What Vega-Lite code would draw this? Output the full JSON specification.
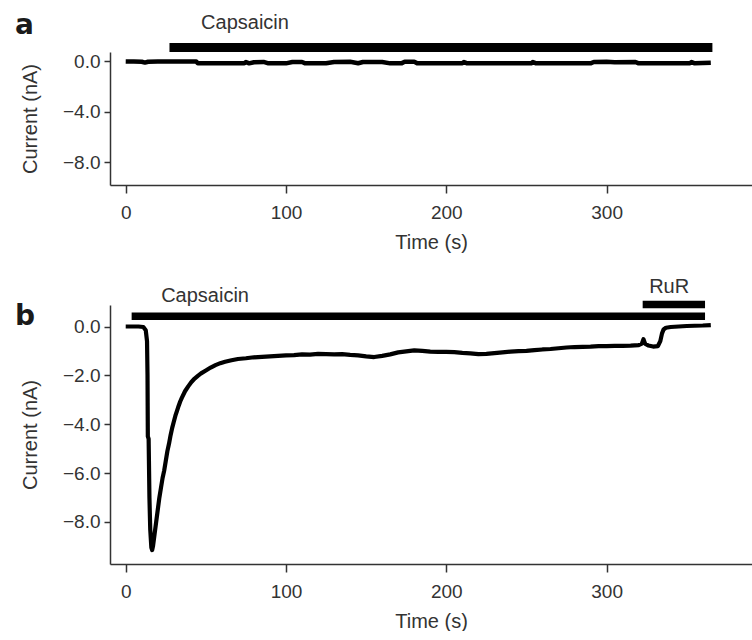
{
  "$schema": "https://vega.github.io/schema/vega-lite/v6.json",
  "padding": {"left": 15, "top": 11, "right": 0, "bottom": 0},
  "bounds": "flush",
  "spacing": 120,
  "background": "white",
  "config": {
    "view": {"stroke": null},
    "font": "Liberation Sans",
    "axis": {
      "grid": false,
      "domainColor": "#333333",
      "domainWidth": 1.5,
      "tickColor": "#333333",
      "tickWidth": 1.5,
      "labelFont": "Liberation Sans",
      "labelFontSize": 19,
      "labelColor": "#333333",
      "titleFont": "Liberation Sans",
      "titleFontSize": 20,
      "titleFontWeight": "normal",
      "titleColor": "#333333"
    },
    "axisX": {"tickSize": 8, "labelPadding": 10, "titlePadding": 10},
    "axisY": {"tickSize": 6, "labelPadding": 4, "titlePadding": 22}
  },
  "datasets": {
    "traceA": [
      {"t": 0, "I": 0.0}, {"t": 5, "I": -0.01}, {"t": 10, "I": -0.02}, {"t": 12, "I": -0.09}, {"t": 14, "I": -0.02},
      {"t": 20, "I": 0.0}, {"t": 30, "I": -0.01}, {"t": 40, "I": 0.0}, {"t": 44, "I": 0.0}, {"t": 45, "I": -0.15},
      {"t": 55, "I": -0.15}, {"t": 65, "I": -0.14}, {"t": 74, "I": -0.15}, {"t": 75, "I": -0.05}, {"t": 77, "I": -0.15},
      {"t": 80, "I": -0.06}, {"t": 86, "I": -0.04}, {"t": 89, "I": -0.15}, {"t": 100, "I": -0.15}, {"t": 104, "I": -0.04},
      {"t": 110, "I": -0.04}, {"t": 112, "I": -0.15}, {"t": 125, "I": -0.15}, {"t": 130, "I": -0.05}, {"t": 140, "I": -0.03},
      {"t": 145, "I": -0.14}, {"t": 148, "I": -0.04}, {"t": 160, "I": -0.04}, {"t": 165, "I": -0.15}, {"t": 172, "I": -0.15},
      {"t": 174, "I": -0.03}, {"t": 180, "I": -0.03}, {"t": 182, "I": -0.15}, {"t": 200, "I": -0.15}, {"t": 210, "I": -0.14},
      {"t": 211, "I": -0.04}, {"t": 213, "I": -0.15}, {"t": 240, "I": -0.15}, {"t": 253, "I": -0.15}, {"t": 254, "I": -0.04},
      {"t": 256, "I": -0.15}, {"t": 290, "I": -0.15}, {"t": 292, "I": -0.04}, {"t": 300, "I": -0.03}, {"t": 305, "I": -0.06},
      {"t": 318, "I": -0.04}, {"t": 320, "I": -0.15}, {"t": 340, "I": -0.15}, {"t": 352, "I": -0.15}, {"t": 353, "I": -0.05},
      {"t": 355, "I": -0.15}, {"t": 365, "I": -0.1}
    ],
    "traceB": [
      {"t": 0, "I": 0.0}, {"t": 4, "I": 0.0}, {"t": 8, "I": 0.0}, {"t": 11, "I": -0.02}, {"t": 12.5, "I": -0.15},
      {"t": 13.3, "I": -0.6}, {"t": 13.6, "I": -2.0}, {"t": 13.8, "I": -4.5}, {"t": 14.3, "I": -4.6}, {"t": 14.8, "I": -7.0},
      {"t": 15.3, "I": -8.3}, {"t": 16.0, "I": -9.05}, {"t": 16.5, "I": -9.15}, {"t": 17, "I": -9.0}, {"t": 18, "I": -8.5},
      {"t": 19, "I": -8.0}, {"t": 20, "I": -7.5}, {"t": 21, "I": -7.0}, {"t": 22, "I": -6.6}, {"t": 23, "I": -6.2},
      {"t": 24, "I": -5.9}, {"t": 25, "I": -5.5}, {"t": 26, "I": -5.1}, {"t": 27, "I": -4.8}, {"t": 28, "I": -4.45},
      {"t": 29, "I": -4.15}, {"t": 30, "I": -3.9}, {"t": 31, "I": -3.65}, {"t": 32, "I": -3.45}, {"t": 33, "I": -3.25},
      {"t": 34, "I": -3.07}, {"t": 35, "I": -2.92}, {"t": 37, "I": -2.65}, {"t": 39, "I": -2.45}, {"t": 41, "I": -2.27},
      {"t": 43, "I": -2.13}, {"t": 45, "I": -2.02}, {"t": 47, "I": -1.92}, {"t": 50, "I": -1.8}, {"t": 53, "I": -1.68},
      {"t": 56, "I": -1.58}, {"t": 59, "I": -1.5}, {"t": 62, "I": -1.44}, {"t": 66, "I": -1.38}, {"t": 70, "I": -1.33},
      {"t": 75, "I": -1.3}, {"t": 80, "I": -1.26}, {"t": 85, "I": -1.24}, {"t": 90, "I": -1.22}, {"t": 95, "I": -1.2},
      {"t": 100, "I": -1.18}, {"t": 105, "I": -1.17}, {"t": 110, "I": -1.14}, {"t": 115, "I": -1.15}, {"t": 120, "I": -1.12},
      {"t": 125, "I": -1.13}, {"t": 130, "I": -1.14}, {"t": 135, "I": -1.13}, {"t": 140, "I": -1.16}, {"t": 145, "I": -1.18},
      {"t": 150, "I": -1.22}, {"t": 155, "I": -1.25}, {"t": 160, "I": -1.2}, {"t": 165, "I": -1.14}, {"t": 170, "I": -1.06},
      {"t": 175, "I": -1.02}, {"t": 180, "I": -0.98}, {"t": 185, "I": -1.0}, {"t": 190, "I": -1.03}, {"t": 195, "I": -1.04},
      {"t": 200, "I": -1.04}, {"t": 205, "I": -1.05}, {"t": 210, "I": -1.08}, {"t": 215, "I": -1.1}, {"t": 220, "I": -1.13},
      {"t": 225, "I": -1.12}, {"t": 230, "I": -1.09}, {"t": 235, "I": -1.06}, {"t": 240, "I": -1.03}, {"t": 245, "I": -1.01},
      {"t": 250, "I": -1.0}, {"t": 255, "I": -0.97}, {"t": 260, "I": -0.94}, {"t": 265, "I": -0.92}, {"t": 270, "I": -0.89},
      {"t": 275, "I": -0.86}, {"t": 280, "I": -0.84}, {"t": 285, "I": -0.83}, {"t": 290, "I": -0.82}, {"t": 295, "I": -0.8},
      {"t": 300, "I": -0.8}, {"t": 305, "I": -0.79}, {"t": 310, "I": -0.79}, {"t": 315, "I": -0.78}, {"t": 320, "I": -0.76},
      {"t": 322, "I": -0.7}, {"t": 323, "I": -0.52}, {"t": 324, "I": -0.7}, {"t": 326, "I": -0.78}, {"t": 329, "I": -0.82},
      {"t": 332, "I": -0.8}, {"t": 333.5, "I": -0.6}, {"t": 334.5, "I": -0.3}, {"t": 335.5, "I": -0.12}, {"t": 337, "I": -0.05},
      {"t": 340, "I": -0.02}, {"t": 345, "I": 0.0}, {"t": 350, "I": 0.02}, {"t": 355, "I": 0.03}, {"t": 360, "I": 0.04},
      {"t": 365, "I": 0.06}
    ]
  },
  "vconcat": [
    {
      "width": 642,
      "height": 133,
      "layer": [
        {
          "data": {"name": "traceA"},
          "mark": {"type": "line", "color": "black", "strokeWidth": 4.5, "strokeJoin": "round"},
          "encoding": {
            "x": {"field": "t", "type": "quantitative", "scale": {"domain": [-9.8, 390.7], "nice": false, "zero": false},
                  "axis": {"values": [0, 100, 200, 300], "title": "Time (s)"}},
            "y": {"field": "I", "type": "quantitative", "scale": {"domain": [-9.8, 0.75], "nice": false, "zero": false},
                  "axis": {"values": [0, -4, -8], "format": ".1f", "title": "Current (nA)"}}
          }
        },
        {
          "data": {"values": [{"start": 27.3, "end": 366, "level": 1.11, "drug": "Capsaicin"}]},
          "mark": {"type": "rule", "color": "black", "strokeWidth": 9, "strokeCap": "butt"},
          "encoding": {
            "x": {"field": "start", "type": "quantitative"},
            "x2": {"field": "end"},
            "y": {"field": "level", "type": "quantitative"}
          }
        },
        {
          "data": {"values": [{"t": 74.4, "level": 2.6, "text": "Capsaicin"}]},
          "mark": {"type": "text", "font": "Liberation Sans", "fontSize": 20, "color": "#333333", "align": "center", "baseline": "alphabetic"},
          "encoding": {
            "x": {"field": "t", "type": "quantitative"},
            "y": {"field": "level", "type": "quantitative"},
            "text": {"field": "text"}
          }
        },
        {
          "data": {"values": [{"t": -69, "level": 2.21, "text": "a"}]},
          "mark": {"type": "text", "font": "DejaVu Sans", "fontSize": 28, "fontWeight": "bold", "color": "#1a1a1a", "align": "left", "baseline": "alphabetic"},
          "encoding": {
            "x": {"field": "t", "type": "quantitative"},
            "y": {"field": "level", "type": "quantitative"},
            "text": {"field": "text"}
          }
        }
      ]
    },
    {
      "width": 642,
      "height": 259,
      "layer": [
        {
          "data": {"name": "traceB"},
          "mark": {"type": "line", "color": "black", "strokeWidth": 4.2, "strokeJoin": "round"},
          "encoding": {
            "x": {"field": "t", "type": "quantitative", "scale": {"domain": [-9.8, 390.7], "nice": false, "zero": false},
                  "axis": {"values": [0, 100, 200, 300], "title": "Time (s)"}},
            "y": {"field": "I", "type": "quantitative", "scale": {"domain": [-9.72, 0.88], "nice": false, "zero": false},
                  "axis": {"values": [0, -2, -4, -6, -8], "format": ".1f", "title": "Current (nA)"}}
          }
        },
        {
          "data": {"values": [
            {"start": 3.7, "end": 361.4, "level": 0.42, "drug": "Capsaicin"},
            {"start": 322.5, "end": 361.4, "level": 0.9, "drug": "RuR"}
          ]},
          "mark": {"type": "rule", "color": "black", "strokeWidth": 7.5, "strokeCap": "butt"},
          "encoding": {
            "x": {"field": "start", "type": "quantitative"},
            "x2": {"field": "end"},
            "y": {"field": "level", "type": "quantitative"}
          }
        },
        {
          "data": {"values": [
            {"t": 49.5, "level": 1.02, "text": "Capsaicin"},
            {"t": 339, "level": 1.38, "text": "RuR"}
          ]},
          "mark": {"type": "text", "font": "Liberation Sans", "fontSize": 20, "color": "#333333", "align": "center", "baseline": "alphabetic"},
          "encoding": {
            "x": {"field": "t", "type": "quantitative"},
            "y": {"field": "level", "type": "quantitative"},
            "text": {"field": "text"}
          }
        },
        {
          "data": {"values": [{"t": -69, "level": 0.06, "text": "b"}]},
          "mark": {"type": "text", "font": "DejaVu Sans", "fontSize": 28, "fontWeight": "bold", "color": "#1a1a1a", "align": "left", "baseline": "alphabetic"},
          "encoding": {
            "x": {"field": "t", "type": "quantitative"},
            "y": {"field": "level", "type": "quantitative"},
            "text": {"field": "text"}
          }
        }
      ]
    }
  ]
}
